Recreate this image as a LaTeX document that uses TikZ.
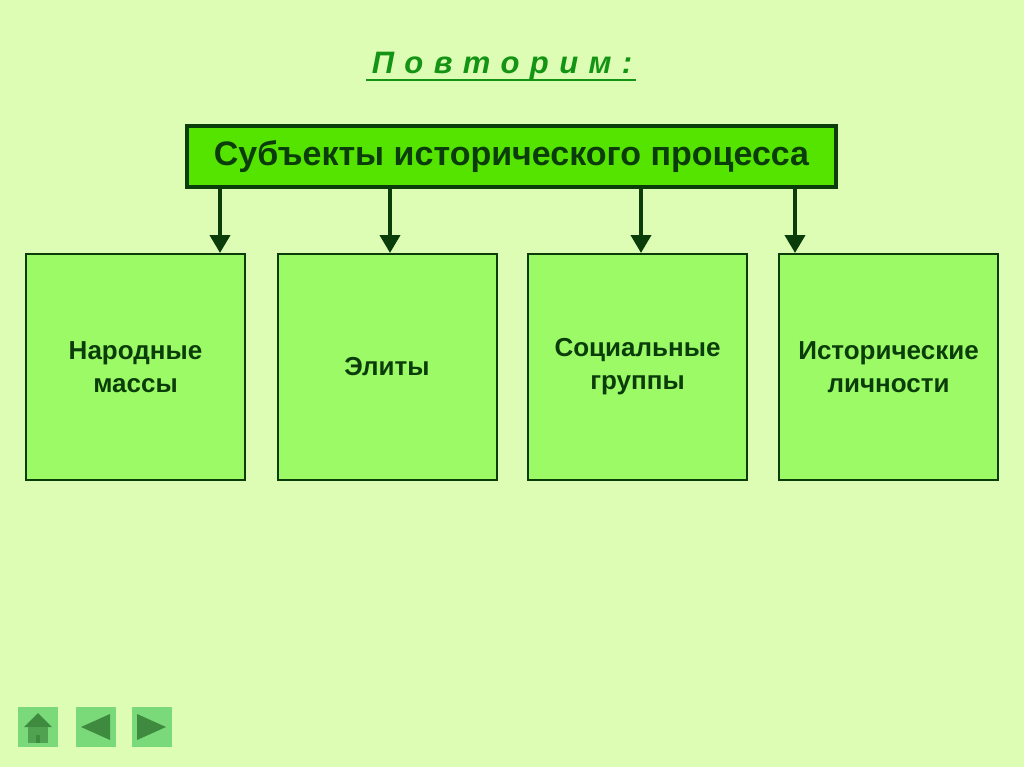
\documentclass[tikz,border=0pt]{standalone}
\usepackage{fontspec}
\setmainfont{Liberation Sans}
\usetikzlibrary{arrows.meta}
\definecolor{bgcol}{HTML}{DDFDB5}
\definecolor{topcol}{HTML}{55E400}
\definecolor{boxcol}{HTML}{9CFA66}
\definecolor{dark}{HTML}{0B3D0B}
\definecolor{titlecol}{HTML}{149414}
\definecolor{btncol}{HTML}{7ADA7A}
\definecolor{btndark}{HTML}{3E8A3E}
\tikzset{
  topbox/.style={draw=dark, line width=4pt, fill=topcol, minimum width=649pt, minimum height=61pt,
    text=dark, font=\fontsize{34}{38}\selectfont\bfseries},
  subbox/.style={draw=dark, line width=2pt, fill=boxcol, minimum width=219pt, minimum height=226pt,
    text=dark, align=center, font=\fontsize{26}{33}\selectfont\bfseries},
  conn/.style={draw=dark, line width=4pt, -{Triangle[length=18pt,width=20pt]}},
  btn/.style={fill=btncol, minimum size=40pt, inner sep=0pt}
}
\begin{document}
\begin{tikzpicture}[x=1pt,y=-1pt]
  % Hintergrund
  \fill[bgcol] (0,0) rectangle (1024,767);
  \useasboundingbox (0,0) rectangle (1024,767);

  % Ueberschrift
  \node[text=titlecol, font=\fontsize{31}{34}\selectfont\bfseries\itshape] (title) at (502,66)
    {П\,\,о\,\,в\,\,т\,\,о\,\,р\,\,и\,\,м\,\,:};
  \draw[titlecol, line width=2.5pt] (366,80) -- (636,80);

  % Kaesten
  \node[topbox] (subj) at (511.5,156.5) {Субъекты исторического процесса};
  \node[subbox] (masses) at (135.5,367) {Народные\\массы};
  \node[subbox] (elites) at (387,367) {Элиты};
  \node[subbox] (groups) at (637.5,367) {Социальные\\группы};
  \node[subbox] (persons) at (888.5,367) {Исторические\\личности};

  % Pfeile
  \draw[conn] (subj.south -| 220,0) -- (masses.north -| 220,0);
  \draw[conn] (subj.south -| 390,0) -- (elites.north -| 390,0);
  \draw[conn] (subj.south -| 641,0) -- (groups.north -| 641,0);
  \draw[conn] (subj.south -| 795,0) -- (persons.north -| 795,0);

  % Navigation
  \node[btn] (home) at (38,727) {};
  \node[btn] (prev) at (95.5,727) {};
  \node[btn] (next) at (152,727) {};
  \fill[btndark] (24,727) -- (38,713) -- (52,727) -- cycle;
  \fill[btndark!70!btncol] (28,727) rectangle (48,743);
  \fill[btndark] (36,735) rectangle (40,743);
  \fill[btndark] (81,727) -- (110,714) -- (110,740) -- cycle;
  \fill[btndark] (137,714) -- (166,727) -- (137,740) -- cycle;
\end{tikzpicture}
\end{document}
